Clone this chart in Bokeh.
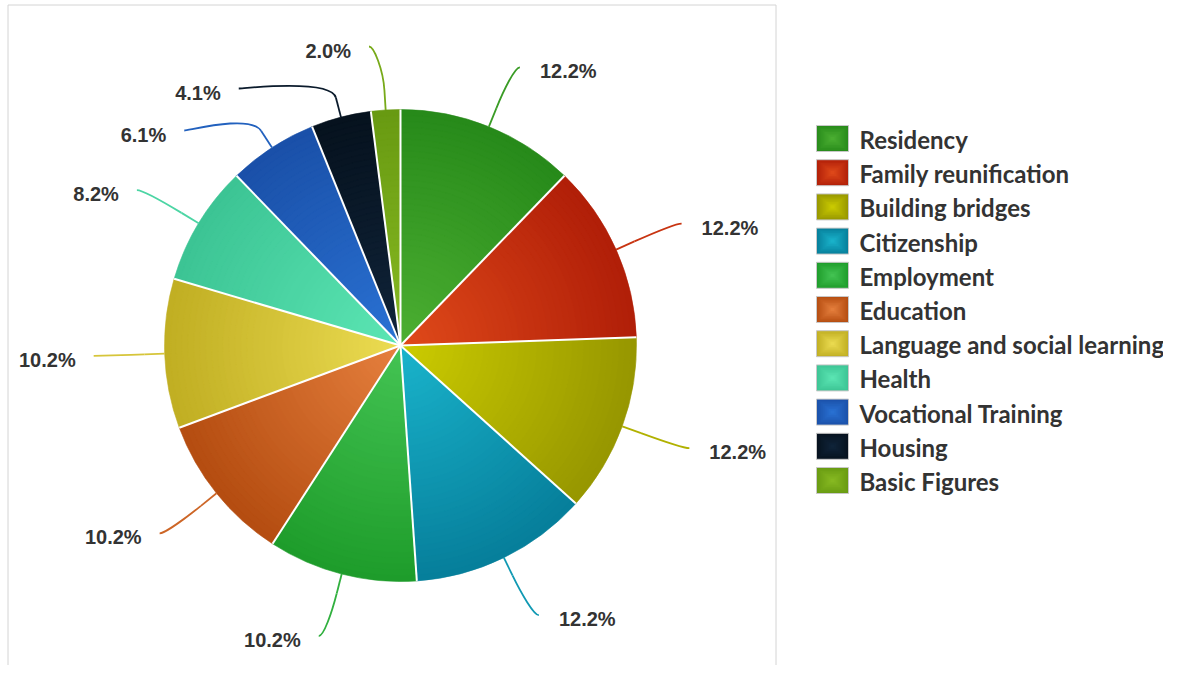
import math
from bokeh.plotting import figure
from bokeh.models import Range1d
from bokeh.core.properties import value
from bokeh.embed import file_html
from bokeh.resources import INLINE

# ---------------- data ----------------
categories = ["Residency", "Family reunification", "Building bridges", "Citizenship",
              "Employment", "Education", "Language and social learning", "Health",
              "Vocational Training", "Housing", "Basic Figures"]
percentages = [12.2, 12.2, 12.2, 12.2, 10.2, 10.2, 10.2, 8.2, 6.1, 4.1, 2.0]
colors_light = ["#4caf32", "#e04a1a", "#cccc00", "#1ab4cc", "#44c454", "#e6803e",
                "#ecdc52", "#5ce6b4", "#2a72d4", "#10243a", "#88ba22"]
colors_dark = ["#278a1a", "#b01e08", "#969600", "#067e9a", "#1e9c2a", "#b44c10",
               "#c0ae22", "#3cc494", "#1a50a8", "#06121e", "#689a12"]

# ---------------- layout ----------------
W, H = 1163, 665
CX, CY, R = 400.0, 345.0, 236.0      # pie centre / radius in page pixels
R_LAB = 300.0                         # connector end radius
LAB_TOP, LAB_GAP = 46.0, 42.0


def sx(x):
    return x


def sy(y):
    return H - y


def hex2rgb(h):
    h = h.lstrip("#")
    return [int(h[i:i + 2], 16) for i in (0, 2, 4)]


def mix(c1, c2, t):
    a, b = hex2rgb(c1), hex2rgb(c2)
    return "#%02x%02x%02x" % tuple(int(round(a[i] + (b[i] - a[i]) * t)) for i in range(3))


p = figure(width=W, height=H, x_range=Range1d(0, W), y_range=Range1d(0, H),
           output_backend="svg", toolbar_location=None, min_border=0,
           x_axis_location=None, y_axis_location=None, outline_line_color=None,
           background_fill_color="white", border_fill_color="white")
p.grid.visible = False

# plot-area frame
p.quad(left=[sx(7.5)], right=[sx(775.5)], bottom=[-20], top=[sy(4.5)],
       fill_alpha=0, line_color="#d4d4d4", line_width=1)

total = sum(percentages)
starts, ends = [], []
acc = 0.0
for v in percentages:
    starts.append(acc / total * 2 * math.pi)
    acc += v
    ends.append(acc / total * 2 * math.pi)
mids = [(a + b) / 2 for a, b in zip(starts, ends)]

# ---------------- pie with radial gradient ----------------
N = 40
for k in range(N, 0, -1):
    rad = R * k / N
    t = (k - 0.5) / N
    cols = [mix(cl, cd, t) for cl, cd in zip(colors_light, colors_dark)]
    p.wedge(x=[sx(CX)] * len(percentages), y=[sy(CY)] * len(percentages), radius=rad,
            start_angle=[math.pi / 2 - a for a in starts],
            end_angle=[math.pi / 2 - b for b in ends],
            direction="clock", fill_color=cols, line_color=cols, line_width=0.6)

# white slice borders
bx0, by0, bx1, by1 = [], [], [], []
for a in starts:
    bx0.append(sx(CX)); by0.append(sy(CY))
    bx1.append(sx(CX + R * math.sin(a))); by1.append(sy(CY - R * math.cos(a)))
p.segment(x0=bx0, y0=by0, x1=bx1, y1=by1, line_color="white", line_width=2)

# ---------------- data labels with connectors ----------------
order = sorted(range(len(mids)), key=lambda i: CY - R_LAB * math.cos(mids[i]))
lab_y = {}
for side in (True, False):
    prev = -1e9
    for i in order:
        if (math.sin(mids[i]) > 0) != side:
            continue
        ny = CY - R_LAB * math.cos(mids[i])
        y = max(ny, prev + LAB_GAP, LAB_TOP)
        lab_y[i] = y
        prev = y

for i, m in enumerate(mids):
    right = math.sin(m) > 0
    sgn = 1 if right else -1
    y = lab_y[i]
    dy = y - CY
    xe = CX + sgn * (math.sqrt(max(R_LAB ** 2 - dy ** 2, 0.0)) + 7)
    ex = xe - sgn * 5
    tx, ty = CX + R * math.sin(m), CY - R * math.cos(m)
    bxp, byp = CX + (R + 20) * math.sin(m), CY - (R + 20) * math.cos(m)
    col = mix(colors_light[i], colors_dark[i], 0.5)
    p.bezier(x0=[sx(xe)], y0=[sy(y)], x1=[sx(bxp)], y1=[sy(byp)],
             cx0=[sx(ex)], cy0=[sy(y)], cx1=[sx(2 * bxp - tx)], cy1=[sy(2 * byp - ty)],
             line_color=col, line_width=1.8)
    p.segment(x0=[sx(bxp)], y0=[sy(byp)], x1=[sx(tx)], y1=[sy(ty)], line_color=col, line_width=1.8)
    label = "%.1f%%" % percentages[i]
    p.text(x=[sx(xe + 20 if right else xe - 18)], y=[sy(y + 4)], text=[label],
           text_align="left" if right else "right", text_baseline="middle",
           text_font=value("Liberation Sans"), text_font_style="bold",
           text_font_size="20px", text_color="#333333")

# ---------------- legend ----------------
LEG_X0, LEG_X1, LEG_Y0, LEG_DY, LEG_H = 816.0, 848.0, 138.0, 34.2, 26.0
NL = 8
for i, name in enumerate(categories):
    yc = LEG_Y0 + i * LEG_DY
    xc = (LEG_X0 + LEG_X1) / 2
    for k in range(NL, 0, -1):
        f = k / NL
        hw = (LEG_X1 - LEG_X0) / 2 * f
        hh = LEG_H / 2 * f
        c = mix(colors_light[i], colors_dark[i], (k - 0.5) / NL)
        p.quad(left=[sx(xc - hw)], right=[sx(xc + hw)], top=[sy(yc - hh)], bottom=[sy(yc + hh)],
               fill_color=c, line_color=None)
    p.quad(left=[sx(LEG_X0)], right=[sx(LEG_X1)], top=[sy(yc - LEG_H / 2)], bottom=[sy(yc + LEG_H / 2)],
           fill_alpha=0, line_color="#c8c8c8", line_width=1)
    p.text(x=[sx(859)], y=[sy(yc + 1)], text=[name], text_align="left", text_baseline="middle",
           text_font=value("Lato"), text_font_style="bold",
           text_font_size="24px", text_color="#333333")

open("out.html", "w").write(file_html(p, INLINE))
